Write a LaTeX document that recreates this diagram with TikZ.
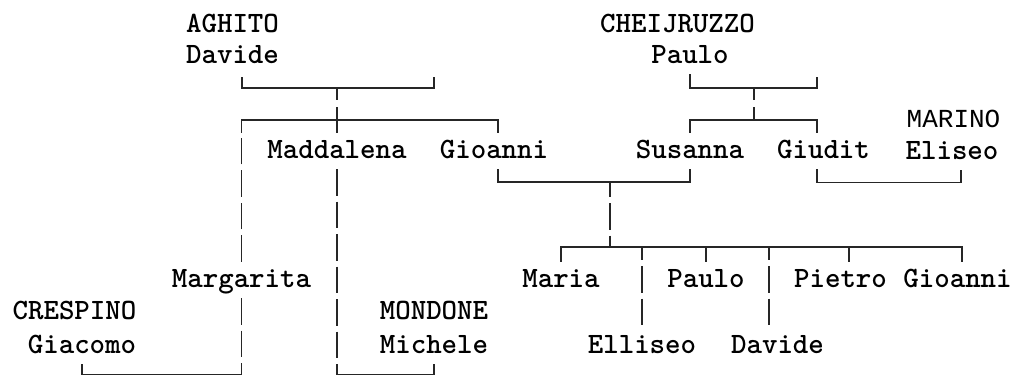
\documentclass[tikz,border=0pt]{standalone}
\usepackage{fontspec}
\newfontfamily\namefont{lmmonolt10-bold}[Extension=.otf]
\newfontfamily\markfont{Liberation Mono}
\begin{document}
\begin{tikzpicture}[x=1pt,y=-1pt,
	person/.style={font=\namefont\fontsize{29.5}{32}\selectfont,anchor=base,inner sep=4pt,text height=21pt,text depth=7pt},
	link/.style={line width=1.3pt,draw=black!85},
	gappy/.style={link,dash pattern=on 26.5pt off 6pt}]
	\useasboundingbox (0,0) rectangle (1013,376);
	
	% first generation
	\node[person] (aghito) at (232.5,32) {AGHITO};
	\node[person] (davide) at (232.5,63) {Davide};
	\node[person] (cheij) at (677.5,32) {CHEIJRUZZO};
	\node[person] (paulo) at (690,63) {Paulo};
	
	% second generation
	\node[person] (maddalena) at (337,158) {Maddalena};
	\node[person] (gioanni) at (494,158) {Gioanni};
	\node[person] (susanna) at (690,158) {Susanna};
	\node[person] (giudit) at (823.5,158) {Giudit};
	\node[person,font=\markfont\fontsize{26}{28}\selectfont] (marino) at (953.5,127) {MARINO};
	\node[person] (eliseo) at (952,159) {Eliseo};
	
	% third generation
	\node[person] (margarita) at (241.5,287) {Margarita};
	\node[person] (crespino) at (74.5,319) {CRESPINO};
	\node[person] (giacomo) at (82,353) {Giacomo};
	\node[person] (mondone) at (434,319) {MONDONE};
	\node[person] (michele) at (434,353) {Michele};
	\node[person] (maria) at (561,287) {Maria};
	\node[person] (elliseo) at (642,353) {Elliseo};
	\node[person] (paulo2) at (706,287) {Paulo};
	\node[person] (davide2) at (777.5,353) {Davide};
	\node[person] (pietro) at (840.5,287) {Pietro};
	\node[person] (gioanni2) at (957.5,287) {Gioanni};
	
	% AGHITO family
	\coordinate (ag-l) at (242,77);
	\coordinate (ag-r) at (434,77);
	\coordinate (ag-m) at (337,88);
	\coordinate (ag-k) at (337,120);
	\draw[link] (ag-l) |- (ag-m) -| (ag-r);
	\draw[link] (ag-m) -- ++(0,12) ++(0,7) -- (maddalena.north);
	\draw[link] (margarita |- maddalena.north) |- (ag-k) -| ([xshift=4pt]gioanni.north);
	\draw[gappy] (margarita.north) -- (margarita |- ag-k);
	
	% Margarita and Maddalena marriages
	\coordinate (mg) at (241.5,374.5);
	\coordinate (mm) at (337,374.5);
	\draw[gappy] (margarita.south) -- (mg);
	\draw[link] (mg) -| (giacomo.south);
	\draw[gappy] (maddalena.south) -- (mm);
	\draw[link] (mm) -| (michele.south);
	
	% CHEIJRUZZO family
	\coordinate (ch-r) at (817,77);
	\coordinate (ch-m) at (754,88);
	\coordinate (ch-k) at (754,120);
	\draw[link] (paulo.south) |- (ch-m) -| (ch-r);
	\draw[link] (ch-m) -- ++(0,12) ++(0,7) -- (ch-k);
	\draw[link] (susanna.north) |- (ch-k) -| ([xshift=-6.5pt]giudit.north);
	
	% Giudit -- MARINO Eliseo
	\draw[link] ([xshift=-6.5pt]giudit.south) -- ++(0,13) -| ([xshift=9pt]eliseo.south);
	
	% Gioanni -- Susanna and their children
	\coordinate (gs-m) at (610,182);
	\coordinate (gs-k) at (610,247);
	\coordinate (dv-k) at (769,247);
	\draw[link] ([xshift=4pt]gioanni.south) |- (gs-m) -| (susanna.south);
	\draw[gappy,dash phase=11.5pt] (gs-m) -- (gs-k);
	\draw[link] (maria.north) |- (gs-k) -| ([xshift=4.5pt]gioanni2.north);
	\draw[link] (paulo2.north) -- (paulo2 |- gs-k);
	\draw[link] ([xshift=8.5pt]pietro.north) -- +(0,-15);
	\draw[gappy,dash phase=13.5pt] (elliseo |- gs-k) -- (elliseo.north);
	\draw[gappy,dash phase=13.5pt] (dv-k) -- (dv-k |- davide2.north);
\end{tikzpicture}
\end{document}
